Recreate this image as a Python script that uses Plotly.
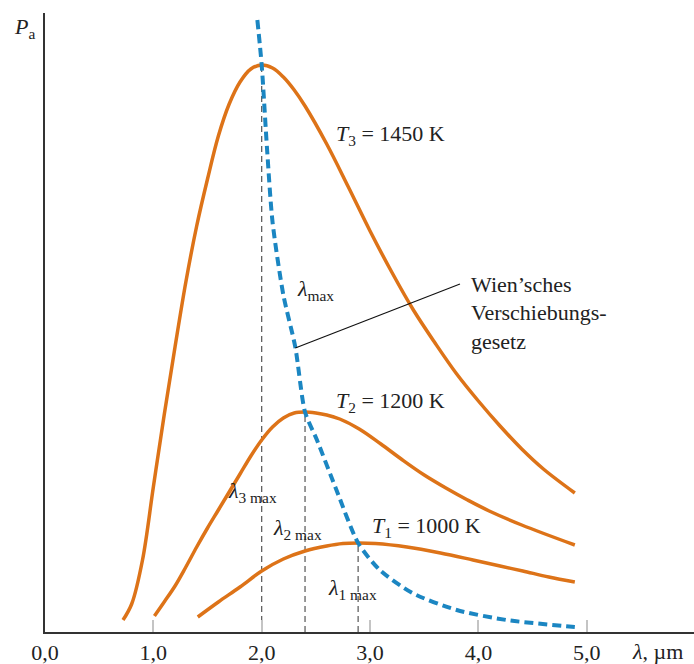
import plotly.graph_objects as go

# Wavelength in µm, radiated power P_a in arbitrary units
t3_lambda = [0.72, 0.80, 0.90, 1.00, 1.10, 1.20, 1.30, 1.40, 1.50, 1.60, 1.70, 1.80, 1.90, 2.00,
             2.10, 2.20, 2.30, 2.40, 2.60, 2.80, 3.00, 3.20, 3.40, 3.60, 3.80, 4.00, 4.20, 4.40,
             4.60, 4.89]
t3_power = [0.12, 0.28, 0.72, 1.45, 2.17, 2.85, 3.50, 4.06, 4.53, 4.96, 5.28, 5.50, 5.63, 5.67,
            5.64, 5.55, 5.42, 5.26, 4.88, 4.45, 4.01, 3.60, 3.22, 2.89, 2.58, 2.31, 2.06, 1.83,
            1.63, 1.39]

t2_lambda = [1.01, 1.10, 1.20, 1.30, 1.40, 1.50, 1.60, 1.70, 1.80, 1.90, 2.00, 2.10, 2.20, 2.30,
             2.40, 2.50, 2.60, 2.72, 2.90, 3.10, 3.30, 3.50, 3.70, 3.90, 4.10, 4.40, 4.89]
t2_power = [0.16, 0.30, 0.46, 0.65, 0.85, 1.04, 1.22, 1.40, 1.58, 1.76, 1.92, 2.05, 2.14, 2.19,
            2.20, 2.19, 2.17, 2.13, 2.03, 1.88, 1.72, 1.57, 1.44, 1.32, 1.21, 1.07, 0.87]

t1_lambda = [1.41, 1.60, 1.80, 2.00, 2.20, 2.40, 2.60, 2.75, 2.89, 3.05, 3.34, 3.65, 3.95, 4.20,
             4.41, 4.65, 4.89]
t1_power = [0.15, 0.30, 0.45, 0.61, 0.73, 0.81, 0.86, 0.885, 0.89, 0.885, 0.85, 0.79, 0.72, 0.66,
            0.61, 0.55, 0.50]

wien_lambda = [1.96, 2.00, 2.05, 2.10, 2.20, 2.31, 2.40, 2.51, 2.69, 2.89, 3.09, 3.39, 3.80, 4.26, 4.89]
wien_power = [6.12, 5.67, 4.82, 4.10, 3.37, 2.85, 2.20, 1.92, 1.42, 0.89, 0.62, 0.39, 0.22, 0.12, 0.05]

peak_lambda = [2.00, 2.40, 2.89]
peak_power = [5.67, 2.20, 0.89]

leader_lambda = [2.31, 3.83]
leader_power = [2.84, 3.48]

tick_vals = [0, 1, 2, 3, 4, 5]
tick_text = ["0,0", "1,0", "2,0", "3,0", "4,0", "5,0"]

ORANGE = "#dd7318"
BLUE = "#1b86c2"
FONT = "Liberation Serif"
TXT = "#222222"

fig = go.Figure()

# dashed drop lines at the maxima
for lx, ly in zip(peak_lambda, peak_power):
    fig.add_trace(go.Scatter(x=[lx, lx], y=[0, ly], mode="lines",
                             line=dict(color="#555555", width=1.2, dash="6px,4px"),
                             hoverinfo="skip", showlegend=False))

for xs, ys in [(t3_lambda, t3_power), (t2_lambda, t2_power), (t1_lambda, t1_power)]:
    fig.add_trace(go.Scatter(x=xs, y=ys, mode="lines",
                             line=dict(color=ORANGE, width=3.5, shape="spline", smoothing=1.0),
                             showlegend=False))

fig.add_trace(go.Scatter(x=wien_lambda, y=wien_power, mode="lines",
                         line=dict(color=BLUE, width=4, dash="9px,5px", shape="spline", smoothing=0.7),
                         showlegend=False))

fig.add_trace(go.Scatter(x=leader_lambda, y=leader_power, mode="lines",
                         line=dict(color="#111111", width=1.2), showlegend=False))

f = dict(family=FONT, size=22, color=TXT)

def label(x, y, text, xanchor="left"):
    fig.add_annotation(x=x, y=y, xref="x", yref="y", text=text, showarrow=False,
                       xanchor=xanchor, yanchor="middle", font=f)

label(2.67, 4.97, "<i>T</i><sub>3</sub> = 1450 K")
label(2.67, 2.30, "<i>T</i><sub>2</sub> = 1200 K")
label(3.00, 1.05, "<i>T</i><sub>1</sub> = 1000 K")
label(2.31, 3.42, "<i>λ</i><sub>max</sub>")
label(1.67, 1.40, "<i>λ</i><sub>3 max</sub>")
label(2.09, 1.03, "<i>λ</i><sub>2 max</sub>")
label(2.59, 0.43, "<i>λ</i><sub>1 max</sub>")
label(3.91, 3.48, "Wien’sches")
label(3.91, 3.20, "Verschiebungs-")
label(3.91, 2.91, "gesetz")

fig.add_annotation(x=0.943, y=-0.031, xref="paper", yref="paper", text="<i>λ</i>, µm",
                   showarrow=False, xanchor="center", yanchor="middle", font=f)
fig.add_annotation(x=-0.031, y=0.976, xref="paper", yref="paper", text="<i>P</i><sub>a</sub>",
                   showarrow=False, xanchor="center", yanchor="middle", font=f)

fig.update_layout(
    width=694, height=664,
    margin=dict(l=45, r=0, t=13, b=32),
    paper_bgcolor="white", plot_bgcolor="white",
    showlegend=False,
    xaxis=dict(range=[0, 5.99], showgrid=False, zeroline=False,
               showline=True, linecolor="#333333", linewidth=2,
               tickmode="array", tickvals=tick_vals, ticktext=tick_text,
               ticks="inside", ticklen=12, tickwidth=2, tickcolor="#c4c4c4",
               tickfont=dict(family=FONT, size=22, color=TXT)),
    yaxis=dict(range=[0, 6.19], showgrid=False, zeroline=False,
               showline=True, linecolor="#333333", linewidth=2,
               showticklabels=False, ticks=""),
)

fig.write_html("out.html", config={"displayModeBar": False},
               post_script="document.body.style.margin='0';")
